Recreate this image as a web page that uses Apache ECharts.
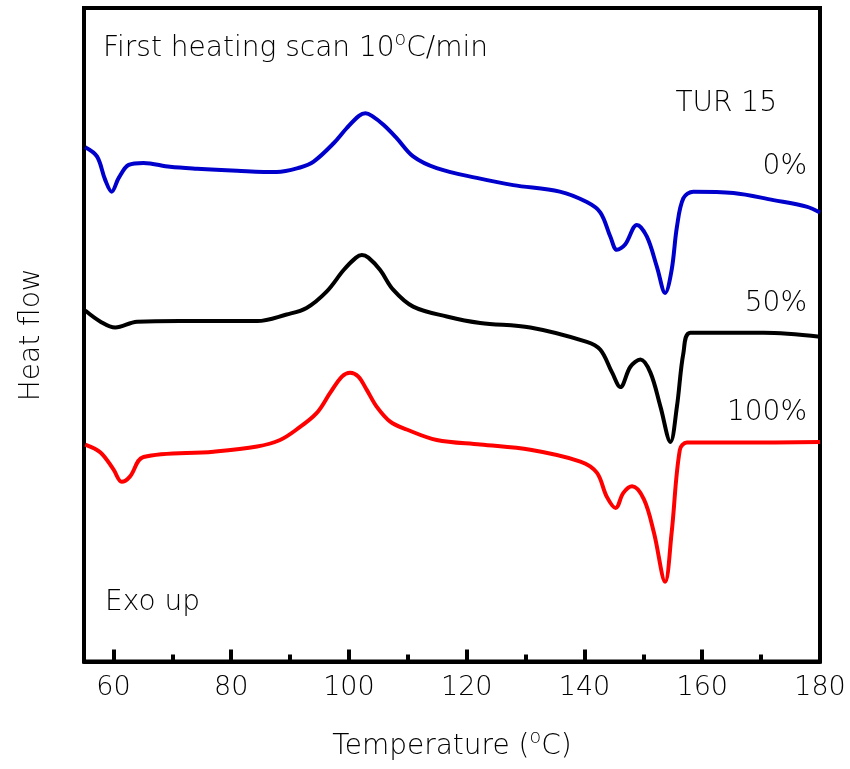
<!DOCTYPE html>
<html>
<head>
<meta charset="utf-8">
<script src="https://cdn.jsdelivr.net/npm/echarts@6/dist/echarts.min.js"></script>
<style>
  html, body { margin: 0; padding: 0; background: #fff; }
  #chart { width: 850px; height: 769px; }
</style>
</head>
<body>
<div id="chart"></div>
<script>
// DSC first heating scans of TUR 15 blends (heat flow in arbitrary units, exo up)
const temp0 = [55.2, 57.2, 58.6, 59.7, 60.9, 62.6, 65.1, 69.6, 74.2, 81.0, 87.7, 91.7, 94.0, 97.4, 99.6, 101.7, 102.8, 103.9, 105.9, 108.1, 110.9, 114.9, 121.7, 127.9, 135.8, 140.4, 142.7, 144.4, 145.5, 146.9, 148.9, 150.6, 152.3, 153.7, 154.8, 155.7, 156.8, 158.5, 165.3, 172.1, 177.7, 180.0];
const flow0 = [78.7, 77.3, 73.7, 71.9, 74.0, 76.0, 76.3, 75.7, 75.4, 75.1, 74.9, 75.6, 76.5, 79.3, 81.6, 83.5, 83.9, 83.5, 82.1, 80.1, 77.3, 75.5, 74.0, 72.9, 71.9, 70.3, 68.7, 65.0, 63.0, 63.8, 66.8, 65.0, 60.4, 56.4, 59.9, 66.5, 70.9, 71.9, 71.7, 70.6, 69.6, 68.7];

const temp50 = [55.2, 57.8, 60.3, 64.0, 71.3, 84.4, 89.4, 92.8, 96.2, 99.1, 101.2, 102.2, 103.3, 105.3, 107.5, 110.9, 116.6, 122.3, 130.8, 140.4, 142.7, 144.7, 146.1, 147.8, 149.5, 151.2, 152.9, 154.6, 155.7, 156.8, 158.0, 170.4, 180.0];
const flow50 = [53.7, 52.0, 51.1, 52.0, 52.1, 52.1, 53.1, 54.1, 56.6, 59.9, 61.8, 62.2, 61.8, 59.9, 56.9, 54.3, 52.8, 51.8, 51.1, 48.9, 47.7, 44.2, 42.0, 45.1, 46.2, 44.2, 39.0, 33.6, 39.0, 47.2, 50.3, 50.3, 49.7];

const temp100 = [55.2, 57.8, 60.0, 61.4, 62.8, 65.1, 77.0, 84.4, 88.3, 91.1, 94.5, 96.8, 98.8, 100.2, 101.6, 103.0, 104.7, 107.0, 109.8, 114.9, 122.3, 130.8, 139.3, 142.1, 143.8, 145.3, 146.6, 148.1, 150.1, 151.8, 153.7, 154.8, 156.2, 157.4, 167.5, 180.0];
const flow100 = [33.2, 32.0, 29.4, 27.5, 28.3, 31.3, 32.1, 32.9, 33.9, 35.5, 38.0, 41.1, 43.6, 44.2, 43.6, 41.6, 39.0, 36.7, 35.5, 33.9, 33.2, 32.4, 30.6, 28.9, 25.2, 23.5, 25.8, 26.8, 24.8, 19.7, 12.2, 19.7, 32.4, 33.5, 33.5, 33.6];

const majorTicks = [60, 80, 100, 120, 140, 160, 180];
const minorTicks = [70, 90, 110, 130, 150, 170];
const curveLabels = ['0%', '50%', '100%'];
const curveColors = ['#0000cc', '#000000', '#ff0000'];

const FONT = 'DejaVu Sans';
const WEIGHT = 200;
const TXT = '#000';
const SIZE = 28;
const pairs = (xs, ys) => xs.map((x, i) => [x, ys[i]]);

const chart = echarts.init(document.getElementById('chart'), null, { renderer: 'canvas' });

const mkSeries = (data, color) => ({
  type: 'line',
  data: data,
  xAxisIndex: 0,
  yAxisIndex: 0,
  showSymbol: false,
  smooth: 0.35,
  lineStyle: { color: color, width: 4 },
  animation: false
});

const txt = (size) => ({ fontSize: size, fontFamily: FONT, fontWeight: WEIGHT, fill: TXT });
const txtWith = (s) => Object.assign(txt(SIZE), { text: s });

const option = {
  backgroundColor: '#fff',
  animation: false,
  grid: {
    left: 84, right: 30, top: 8, bottom: 107,
    show: true, borderColor: '#000', borderWidth: 4
  },
  xAxis: [
    {
      type: 'value', min: 55, max: 180,
      axisLine: { show: true, lineStyle: { color: '#000', width: 4 } },
      axisTick: { show: true, inside: true, length: 12, customValues: majorTicks, lineStyle: { color: '#000', width: 4 } },
      axisLabel: { show: true, customValues: majorTicks, margin: 13, color: TXT, fontSize: 27, fontFamily: FONT, fontWeight: WEIGHT },
      splitLine: { show: false },
      name: '{t|Temperature (}{s|o}{t|C)}',
      nameLocation: 'middle',
      nameGap: 68,
      nameTextStyle: {
        rich: {
          t: { fontSize: SIZE, fontFamily: FONT, fontWeight: WEIGHT, color: TXT, lineHeight: 34 },
          s: { fontSize: 19, fontFamily: FONT, fontWeight: WEIGHT, color: TXT, lineHeight: 34, padding: [0, 0, 16, 0] }
        }
      }
    },
    {
      type: 'value', min: 55, max: 180, position: 'bottom',
      axisLine: { show: false },
      axisTick: { show: true, inside: true, length: 7, customValues: minorTicks, lineStyle: { color: '#000', width: 4 } },
      axisLabel: { show: false },
      splitLine: { show: false }
    }
  ],
  yAxis: {
    type: 'value', min: 0, max: 100,
    axisLine: { show: true, lineStyle: { color: '#000', width: 4 } },
    axisTick: { show: false },
    axisLabel: { show: false },
    splitLine: { show: false },
    name: 'Heat flow',
    nameLocation: 'middle',
    nameGap: 38,
    nameTextStyle: { fontSize: SIZE, fontFamily: FONT, fontWeight: WEIGHT, color: TXT }
  },
  graphic: [
    {
      type: 'text', left: 103, top: 31,
      style: {
        text: '{t|First heating scan 10}{s|o}{t|C/min}',
        rich: {
          t: Object.assign(txt(SIZE), { lineHeight: 38 }),
          s: Object.assign(txt(19), { lineHeight: 38, padding: [0, 0, 16, 0] })
        }
      }
    },
    { type: 'text', right: 73, top: 90, style: txtWith('TUR 15') },
    { type: 'text', right: 43, top: 153, style: txtWith(curveLabels[0]) },
    { type: 'text', right: 43, top: 290, style: txtWith(curveLabels[1]) },
    { type: 'text', right: 43, top: 399, style: txtWith(curveLabels[2]) },
    { type: 'text', left: 105, top: 589, style: txtWith('Exo up') }
  ],
  series: [
    mkSeries(pairs(temp0, flow0), curveColors[0]),
    mkSeries(pairs(temp50, flow50), curveColors[1]),
    mkSeries(pairs(temp100, flow100), curveColors[2])
  ]
};

chart.setOption(option);
</script>
</body>
</html>
